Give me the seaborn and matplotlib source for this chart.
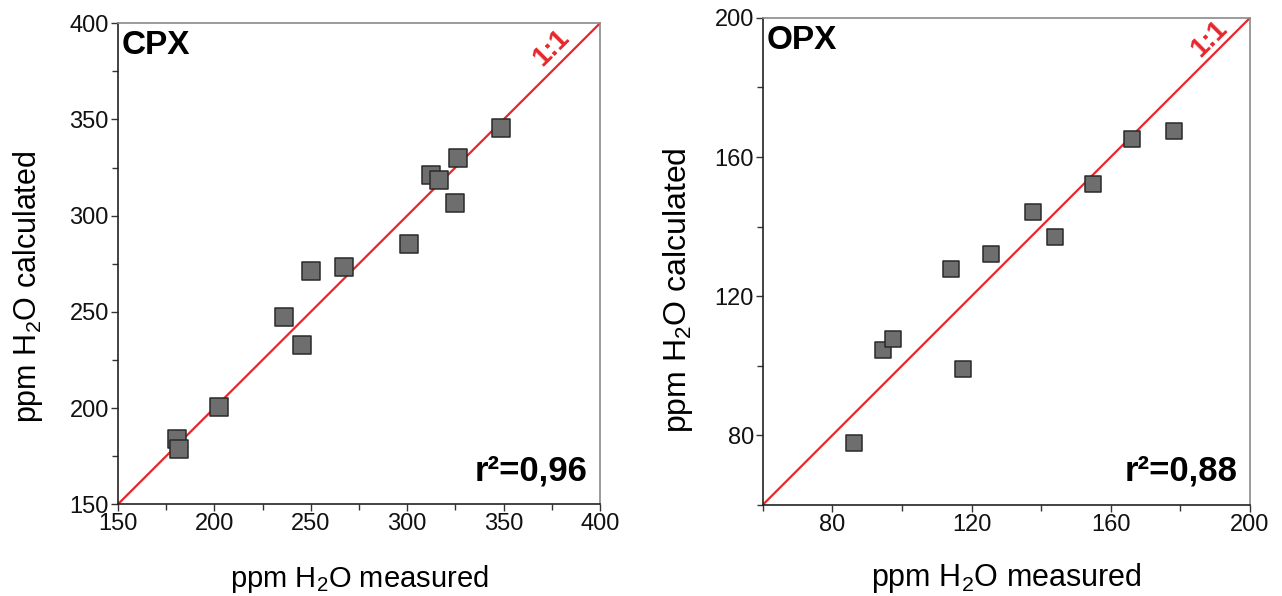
import numpy as np
import pandas as pd
import matplotlib.pyplot as plt
import seaborn as sns
from matplotlib.ticker import MultipleLocator

# data
cpx_measured = [180.6, 181.8, 202.4, 236.3, 245.3, 250.1, 267.4, 300.8, 312.2, 316.7, 324.8, 326.5, 348.5]
cpx_calculated = [184.1, 178.9, 200.3, 247.4, 232.6, 271.3, 273.3, 285.0, 321.0, 318.4, 306.6, 329.7, 345.3]

opx_measured = [86.1, 94.5, 97.5, 114.1, 117.5, 125.6, 137.6, 143.9, 154.8, 166.0, 178.2]
opx_calculated = [77.9, 104.6, 107.8, 127.7, 99.1, 132.2, 144.3, 137.1, 152.1, 165.1, 167.4]

cpx = pd.DataFrame({"measured": cpx_measured, "calculated": cpx_calculated})
opx = pd.DataFrame({"measured": opx_measured, "calculated": opx_calculated})

sns.set_style("ticks")
plt.rcParams['font.family'] = ['Liberation Sans', 'DejaVu Sans']
plt.rcParams['mathtext.default'] = 'regular'
plt.rcParams['text.color'] = 'black'
plt.rcParams['axes.labelcolor'] = 'black'
plt.rcParams['xtick.color'] = '#333333'
plt.rcParams['ytick.color'] = '#333333'
plt.rcParams['xtick.labelcolor'] = '#111111'
plt.rcParams['ytick.labelcolor'] = '#111111'

fig = plt.figure(figsize=(12.82, 5.96), dpi=100)
ax1 = fig.add_axes([0.092, 0.154, 0.376, 0.807])
ax2 = fig.add_axes([0.595, 0.153, 0.380, 0.817])

# axes, data, limits, major, minor, name, r2, marker size, ylabel x, ylabel y, xlabel y, label size
panels = [
    (ax1, cpx, (150, 400), 50, 25, "CPX", "r²=0,96", 150, -0.151, 0.451, -0.122, 21),
    (ax2, opx, (60, 200), 40, 20, "OPX", "r²=0,88", 130, -0.140, 0.441, -0.116, 22),
]

for ax, df, lims, major, minor, name, r2, msize, ylx, yly, xly, lsize in panels:
    ax.plot(lims, lims, color="#e8262b", lw=1.6, zorder=1)
    sns.scatterplot(data=df, x="measured", y="calculated", ax=ax, marker="s",
                    s=msize, color="#6e6e6e", edgecolor="#2a2a2a", linewidth=1.1, zorder=3)
    ax.set_xlim(lims)
    ax.set_ylim(lims)
    ax.xaxis.set_major_locator(MultipleLocator(major))
    ax.yaxis.set_major_locator(MultipleLocator(major))
    ax.xaxis.set_minor_locator(MultipleLocator(minor))
    ax.yaxis.set_minor_locator(MultipleLocator(minor))
    ax.tick_params(which="major", length=5, width=1, labelsize=17, direction="out", pad=1.5)
    ax.tick_params(which="minor", length=4, width=1, direction="out")
    for sp in ["left", "bottom"]:
        ax.spines[sp].set_color("#222222")
        ax.spines[sp].set_linewidth(1.2)
    for sp in ["top", "right"]:
        ax.spines[sp].set_visible(True)
        ax.spines[sp].set_color("#8a8a8a")
        ax.spines[sp].set_linewidth(1.2)
    ax.set_xlabel("ppm H$_2$O measured", fontsize=lsize)
    ax.set_ylabel("ppm H$_2$O calculated", fontsize=lsize + 1)
    ax.xaxis.set_label_coords(0.5, xly)
    ax.yaxis.set_label_coords(ylx, yly)
    ax.text(0.008, 0.985, name, transform=ax.transAxes, fontsize=24, fontweight="bold",
            ha="left", va="top")
    ax.text(0.975, 0.035, r2, transform=ax.transAxes, fontsize=25, fontweight="bold",
            ha="right", va="bottom")

# 1:1 labels along the line
ax1.text(375.0, 387.0, "1:1", color="#e8262b", fontsize=20, fontweight="bold",
         rotation=45, ha="center", va="center")
ax2.text(188.3, 194.0, "1:1", color="#e8262b", fontsize=20, fontweight="bold",
         rotation=45, ha="center", va="center")

# right panel: no labels at 60
ax2.set_xticks([80, 120, 160, 200])
ax2.set_yticks([80, 120, 160, 200])

plt.savefig("out.png", dpi=100)
